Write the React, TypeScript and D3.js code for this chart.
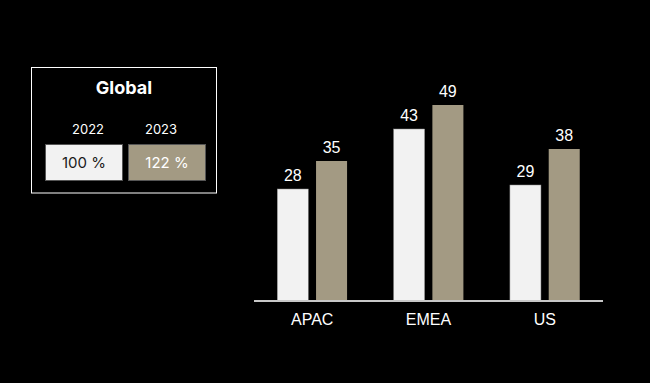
import React from "react";
import * as d3 from "d3";

const categories = ["APAC", "EMEA", "US"];
const seriesNames = ["2022", "2023"];
const values2022 = [28, 43, 29];
const values2023 = [35, 49, 38];
const legendValues = ["100 %", "122 %"];
const legendTitle = "Global";

const W = 650;
const H = 383;
const colors = ["#f2f2f2", "#a39a83"];
const textColors = ["#1a1a1a", "#ffffff"];

export default function App() {
  const x0 = d3.scaleBand<string>().domain(categories).range([254, 603]).paddingInner(0.4).paddingOuter(0.2);
  const x1 = d3.scaleBand<string>().domain(seriesNames).range([0, x0.bandwidth()]).paddingInner(0.2);
  const y = d3.scaleLinear().domain([0, 50]).range([301, 101]);
  const series = [values2022, values2023];

  const legendCx = [84, 167];
  const yearCx = [88, 161];
  return (
    <svg width={W} height={H} style={{ position: "absolute", left: 0, top: 0, background: "#000" }}>
      <rect x={0} y={0} width={W} height={H} fill="#000" />
      {/* legend */}
      <rect x={31.5} y={67.5} width={185} height={125.5} fill="none" stroke="#ffffff" strokeWidth={1} />
      <text x={124} y={94} textAnchor="middle" fill="#fff" fontFamily="Inter, sans-serif" fontWeight={700} fontSize={18}>
        {legendTitle}
      </text>
      {seriesNames.map((s, i) => (
        <g key={s}>
          <text x={yearCx[i]} y={134} textAnchor="middle" fill="#fff" fontFamily="Inter, sans-serif" fontSize={13}>
            {s}
          </text>
          <rect x={legendCx[i] - 38.5} y={144.5} width={77} height={36} fill={colors[i]} stroke="#555" strokeWidth={1} />
          <text x={legendCx[i]} y={168} textAnchor="middle" fill={textColors[i]} fontFamily="Inter, sans-serif" fontSize={15}>
            {legendValues[i]}
          </text>
        </g>
      ))}
      {/* bars */}
      {categories.map((c, ci) => (
        <g key={c} transform={`translate(${x0(c)},0)`}>
          {seriesNames.map((s, si) => {
            const v = series[si][ci];
            const bx = x1(s)!;
            return (
              <g key={s}>
                <rect x={bx} y={y(v)} width={x1.bandwidth()} height={y(0) - y(v)} fill={colors[si]} stroke={si === 0 ? "#8a8a8a" : "none"} strokeWidth={si === 0 ? 0.5 : 0} />
                <text x={bx + x1.bandwidth() / 2} y={y(v) - 8} textAnchor="middle" fill="#fff" fontFamily="Liberation Sans, Arial, sans-serif" fontSize={16}>
                  {v}
                </text>
              </g>
            );
          })}
          <text x={x0.bandwidth() / 2} y={325} textAnchor="middle" fill="#fff" fontFamily="Liberation Sans, Arial, sans-serif" fontSize={16}>
            {c}
          </text>
        </g>
      ))}
      <line x1={254} x2={603} y1={301} y2={301} stroke="#c8c8c8" strokeWidth={2} />
    </svg>
  );
}
